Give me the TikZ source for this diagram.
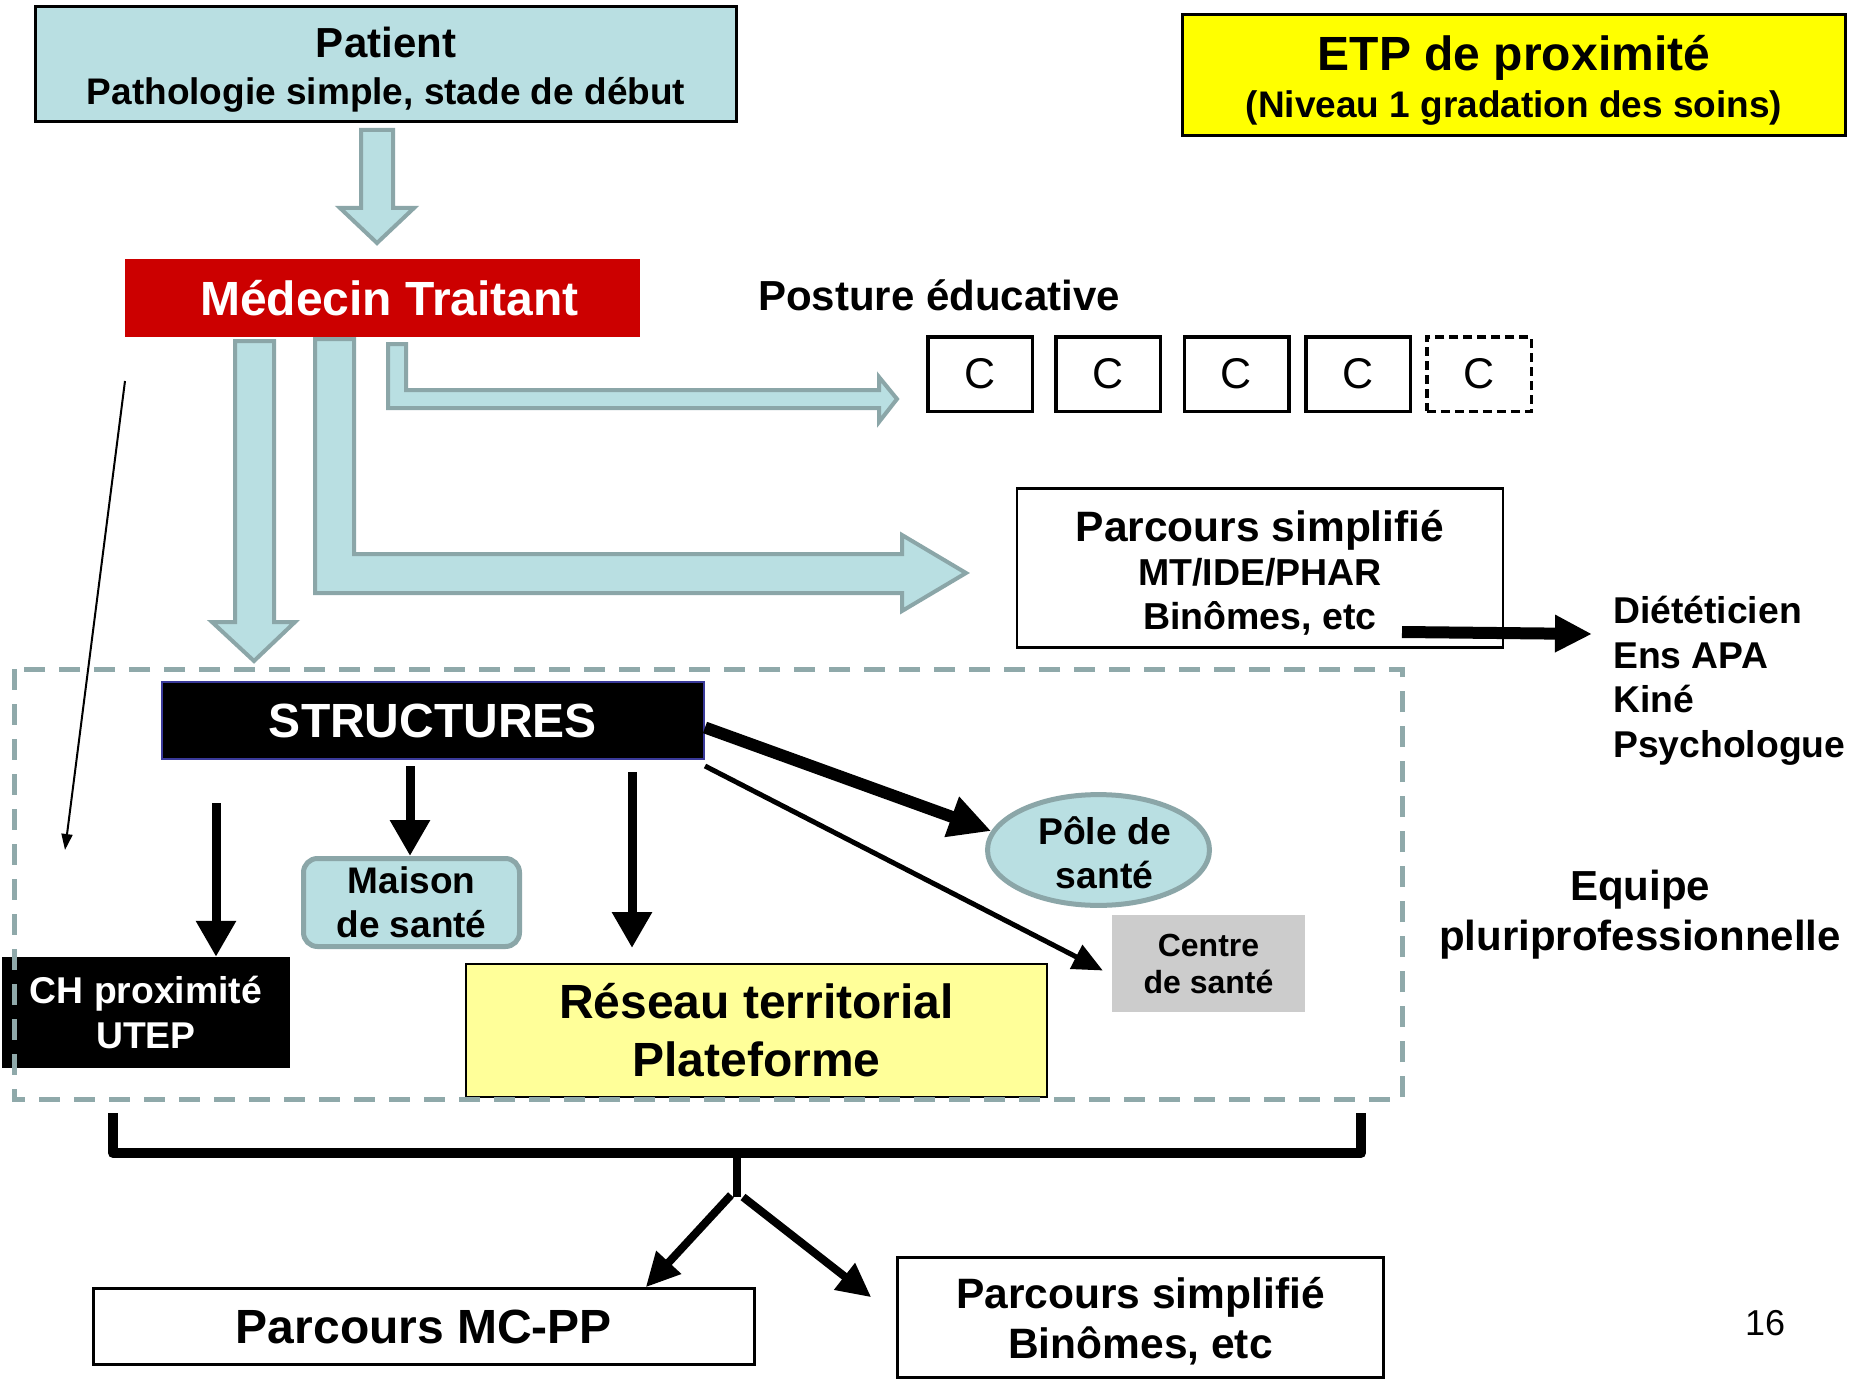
\documentclass[tikz,border=0pt]{standalone}
\usepackage{fontspec}
\setmainfont{Liberation Sans}
\usetikzlibrary{arrows.meta,shapes.geometric,calc}
\definecolor{lb}{HTML}{B9DFE2}
\definecolor{gr}{HTML}{8BA6A8}
\definecolor{dg}{HTML}{8FA9AA}
\definecolor{mtred}{HTML}{CC0000}
\definecolor{etpy}{HTML}{FFFF00}
\definecolor{resy}{HTML}{FFFF99}
\definecolor{cgray}{HTML}{CCCCCC}
\definecolor{sblue}{HTML}{3A3A9A}
\newcommand\fsz[2]{\fontsize{#1pt}{#2pt}\selectfont}
\newcommand\topstrut[1]{\rule{0pt}{#1pt}}
\begin{document}
\begin{tikzpicture}[x=1pt,y=-1pt,
  box/.style={draw=black,line width=2.5pt,inner sep=0pt,align=center},
  barrow/.style={fill=lb,draw=gr,line width=4pt,line join=miter},
  blk/.style={draw=black,line width=9pt,-{Triangle[length=36pt,width=38pt]}},
  blkb/.style={draw=black,line width=8pt,-{Triangle[length=34pt,width=32pt]}},
  cbox/.style={draw=black,line width=3.5pt,minimum width=104.5pt,minimum height=74.5pt,inner sep=0pt,font=\fsz{43}{50}},
]
\fill[white,use as bounding box] (0,0) rectangle (1864,1383);

% block arrows
\draw[barrow] (361,130) -- (393,130) -- (393,208) -- (414,208) -- (377,243) -- (340,208) -- (361,208) -- cycle;
\draw[barrow] (235,341) -- (274,341) -- (274,622) -- (295,622) -- (254,661) -- (212,622) -- (235,622) -- cycle;
\draw[barrow] (315,339) -- (354,339) -- (354,554) -- (902,554) -- (902,535) -- (966,573) -- (902,611) -- (902,593) -- (315,593) -- cycle;
\draw[barrow] (388,344) -- (406,344) -- (406,390) -- (879,390) -- (879,377) -- (897,399) -- (879,422) -- (879,408) -- (388,408) -- cycle;

% nodes
\node[box,fill=lb,minimum width=701pt,minimum height=115pt,font=\bfseries\fsz{37}{47}] (patient) at (386,64)
  {{\fsz{42}{47}\topstrut{41}Patient}\\Pathologie simple, stade de début};
\node[fill=mtred,minimum width=515pt,minimum height=78pt,inner sep=0pt,text=white,font=\bfseries\fsz{48}{50}] (mt) at (382.5,298) {\hspace*{14pt}Médecin Traitant};
\node[box,fill=etpy,minimum width=663pt,minimum height=121pt,font=\bfseries\fsz{37}{47}] (etp) at (1514,75)
  {{\fsz{48}{47}\topstrut{46}ETP de proximité}\\(Niveau 1 gradation des soins)};
\node[anchor=base west,inner sep=0pt,font=\bfseries\fsz{42}{48}] (posture) at (758,310) {Posture éducative};

\node[cbox] (c1) at (980,374) {C};
\node[cbox] (c2) at (1108,374) {C};
\node[cbox] (c3) at (1236.5,374) {C};
\node[cbox] (c4) at (1358,374) {C};
\node[cbox,dash pattern=on 9pt off 5pt] (c5) at (1479,374) {C};

\node[box,minimum width=486pt,minimum height=159pt,font=\bfseries\fsz{37.5}{44}] (ps1) at (1260,568)
  {{\fsz{42.5}{44}\topstrut{40}Parcours simplifié}\\MT/IDE/PHAR\\Binômes, etc};
\node[anchor=north west,inner sep=0pt,align=left,font=\bfseries\fsz{37.3}{44.5}] (diet) at (1613,596)
  {Diététicien\\Ens APA\\Kiné\\Psychologue};
\node[align=center,inner sep=0pt,font=\bfseries\fsz{42}{50}] (equipe) at (1640,915) {Equipe\\pluriprofessionnelle};

\node[fill=black,draw=sblue,line width=2pt,minimum width=542pt,minimum height=77pt,inner sep=0pt,text=white,font=\bfseries\fsz{48}{50}] (struct) at (433,720.5) {STRUCTURES};
\node[fill=lb,draw=gr,line width=5pt,rounded corners=14pt,minimum width=216pt,minimum height=88pt,inner sep=0pt,align=center,font=\bfseries\fsz{37}{44}] (maison) at (411.5,902.5) {Maison\\de santé};
\node[ellipse,fill=lb,draw=gr,line width=5pt,minimum width=222pt,minimum height=109pt,inner sep=0pt,align=center,font=\bfseries\fsz{37.3}{44}] (pole) at (1098.5,850)
  {\hspace*{12pt}\topstrut{34}Pôle de\\\hspace*{12pt}santé};
\node[fill=cgray,minimum width=193pt,minimum height=97pt,inner sep=0pt,align=center,font=\bfseries\fsz{32}{37}] (centre) at (1208.5,963.5) {Centre\\de santé};
\node[fill=black,minimum width=288pt,minimum height=111pt,inner sep=0pt,text=white,align=center,font=\bfseries\fsz{37.3}{45}] (ch) at (146,1012.5) {CH proximité\\UTEP};
\node[fill=resy,draw=black,line width=2pt,minimum width=581pt,minimum height=133pt,inner sep=0pt,align=center,font=\bfseries\fsz{48}{58}] (reseau) at (756.5,1030.5) {Réseau territorial\\Plateforme};

\node[box,minimum width=661pt,minimum height=76pt,font=\bfseries\fsz{48}{50}] (mcpp) at (424,1326.5) {Parcours MC-PP};
\node[box,minimum width=486pt,minimum height=120pt,font=\bfseries\fsz{42.5}{50}] (ps2) at (1140.5,1317.5) {\topstrut{39}Parcours simplifié\\Binômes, etc};
\node[anchor=base west,inner sep=0pt,font=\fsz{36}{40}] (pnum) at (1745,1335) {16};

% black arrows
\coordinate (s1) at (216,803);
\coordinate (s2) at (410,766);
\coordinate (s3) at (632,772);
\draw[blk] (s1) -- (s1 |- ch.north);
\draw[blk] (s2) -- (s2 |- maison.north);
\draw[blk] (s3) -- ($(s3 |- reseau.north)+(0,-15)$);
\draw[draw=black,line width=12pt,-{Triangle[length=42pt,width=40pt]}] ($(struct.east)+(0,7)$) -- (pole.170);
\draw[draw=black,line width=5pt,-{Triangle[length=30pt,width=26pt]}] ($(struct.south east)+(0,6)$) -- ($(centre.west)+(-9,7)$);

\coordinate (d0) at (1402,632);
\coordinate (d1) at ($(diet.north west)+(-21,38)$);
\draw[draw=black,line width=12pt,-{Triangle[length=37pt,width=35pt]}] (d0) -- (d1);

\coordinate (t0) at (125,381);
\coordinate (t1) at (65,850);
\draw[draw=black,line width=2pt,-{Triangle[length=16pt,width=11pt]}] (t0) -- (t1);

% bracket
\coordinate (bl) at (113,1113);
\coordinate (br) at (1361,1113);
\coordinate (bm) at (737,1153);
\draw[black,line width=10pt,line join=round] (bl) -- (bl |- bm) -- (br |- bm) -- (br);
\draw[black,line width=8pt] (bm) -- +(0,44) coordinate (bd);
\draw[blkb] ($(bd)+(-6,-2)$) -- ($(mcpp.north east)+(-110,0)$);
\draw[blkb] ($(bd)+(6,0)$) -- ($(ps2.north west)+(-25,41)$);

% dashed frame
\draw[dg,line width=5pt,dash pattern=on 21pt off 14pt] (14,669) rectangle (1402,1099);
\end{tikzpicture}
\end{document}
